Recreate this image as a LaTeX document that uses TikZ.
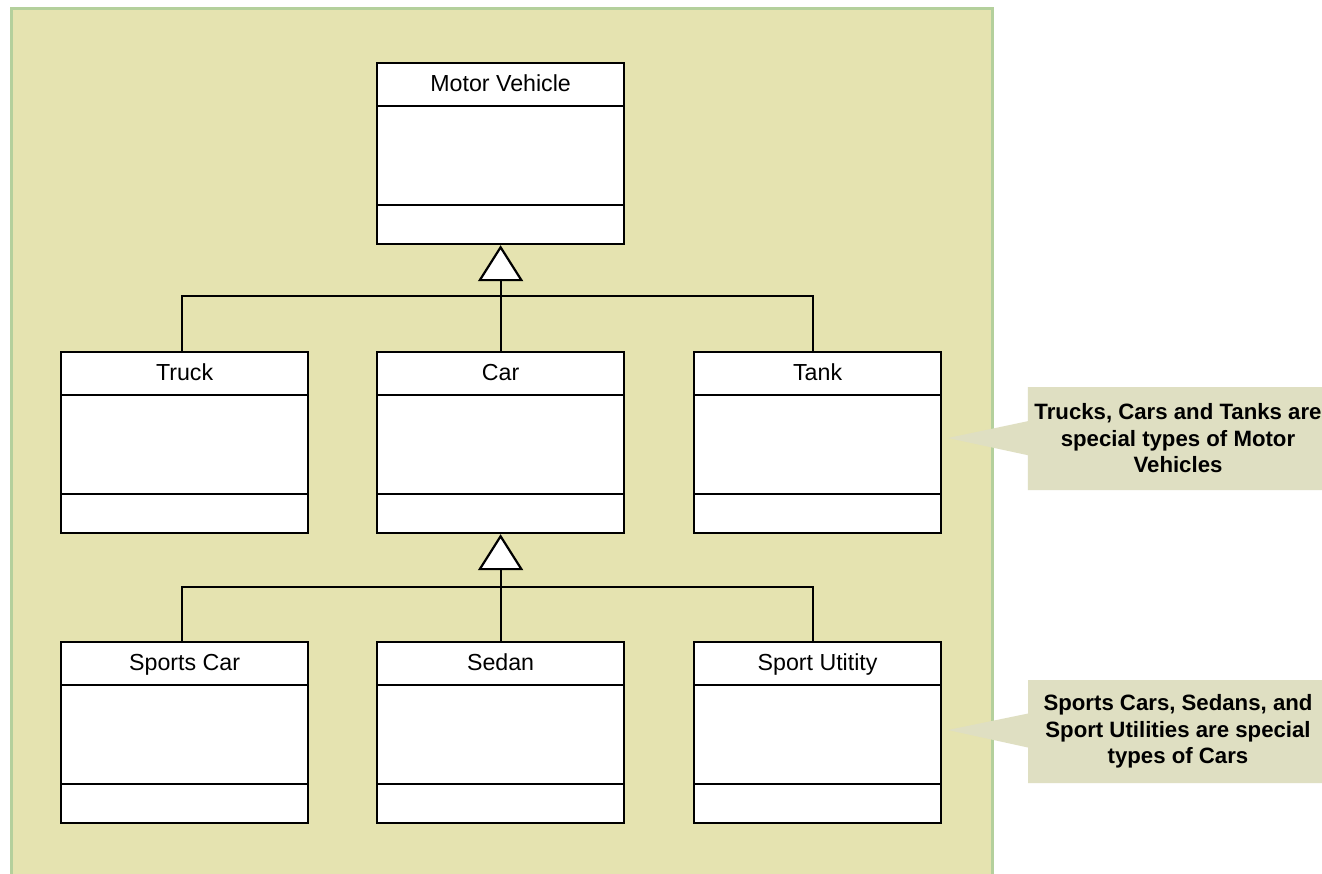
\documentclass[tikz,border=0pt]{standalone}
\usepackage{fontspec}
\setmainfont{Liberation Sans}
\usetikzlibrary{arrows.meta,shapes.callouts}

\definecolor{panelfill}{HTML}{E5E3B0}
\definecolor{panelline}{HTML}{B4D09C}
\definecolor{notefill}{HTML}{DFDFC2}

\tikzset{
  classbox/.style={draw,fill=white,line width=1.1pt,anchor=north west,
    minimum width=123.5pt,minimum height=90.5pt,inner sep=0pt},
  classtitle/.style={font=\fontsize{11.6}{13}\selectfont,inner sep=0pt,
    text height=8.4pt,text depth=2.6pt},
  inherit/.style={line width=1.1pt,-{Triangle[fill=white,length=18pt,width=22.5pt]}},
  note/.style={rectangle callout,fill=notefill,align=center,
    minimum width=150pt,minimum height=51.5pt,callout pointer width=17pt,
    font=\fontsize{11.1}{13.25}\selectfont\bfseries}
}

\begin{document}
\begin{tikzpicture}[x=0.5pt,y=-0.5pt]
  \useasboundingbox (0,0) rectangle (1322,873);
  \fill[white] (0,0) rectangle (1322,873);

  % background panel
  \draw[panelline,fill=panelfill,line width=1.5pt] (11,8) rectangle (992,890);

  % classes
  \foreach \name/\x/\y/\title in {mv/376/62/Motor Vehicle,
      truck/60/351/Truck, car/376/351/Car, tank/693/351/Tank,
      sports/60/641/Sports Car, sedan/376/641/Sedan, suv/693/641/Sport Utitity}{
    \node[classbox] (\name) at (\x,\y) {};
    \draw[line width=1.1pt] ([yshift=-22pt]\name.north west) -- ([yshift=-22pt]\name.north east);
    \draw[line width=1.1pt] ([yshift=20pt]\name.south west) -- ([yshift=20pt]\name.south east);
    \node[classtitle] (\name-title) at ([yshift=-12pt]\name.north) {\title};
  }

  % generalisations
  \coordinate (bus1) at (499.5,296);
  \coordinate (bus2) at (499.5,587);
  \draw[line width=1.1pt] ([xshift=-1.25pt]truck.north) |- (bus1) -| ([xshift=-2.5pt]tank.north);
  \draw[inherit] (car.north) -- (mv.south);
  \draw[line width=1.1pt] ([xshift=-1.25pt]sports.north) |- (bus2) -| ([xshift=-2.5pt]suv.north);
  \draw[inherit] (sedan.north) -- (car.south);

  % notes
  \node[note,callout absolute pointer={(948,438)}] (note1) at (1178,438.5)
    {Trucks, Cars and Tanks are\\special types of Motor\\Vehicles};
  \node[note,callout absolute pointer={(948,730)}] (note2) at (1178,731.5)
    {Sports Cars, Sedans, and\\Sport Utilities are special\\types of Cars};
\end{tikzpicture}
\end{document}
